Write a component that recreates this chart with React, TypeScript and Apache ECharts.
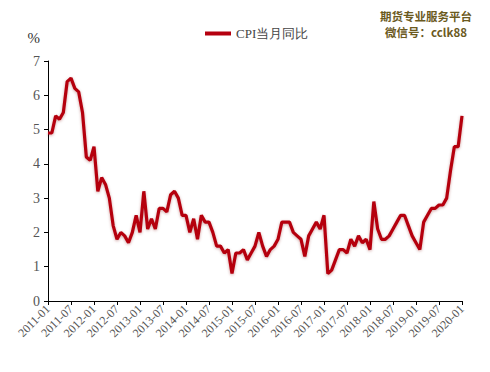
import React, { useEffect, useRef } from "react";
import * as echarts from "echarts";

const months: string[] = [];
for (let y = 2011; y <= 2020; y++) {
  for (let m = 1; m <= 12; m++) {
    if (y === 2020 && m > 1) break;
    months.push(`${y}-${m < 10 ? "0" + m : m}`);
  }
}

const cpi2011 = [4.9, 4.9, 5.4, 5.3, 5.5, 6.4, 6.5, 6.2, 6.1, 5.5, 4.2, 4.1];
const cpi2012 = [4.5, 3.2, 3.6, 3.4, 3.0, 2.2, 1.8, 2.0, 1.9, 1.7, 2.0, 2.5];
const cpi2013 = [2.0, 3.2, 2.1, 2.4, 2.1, 2.7, 2.7, 2.6, 3.1, 3.2, 3.0, 2.5];
const cpi2014 = [2.5, 2.0, 2.4, 1.8, 2.5, 2.3, 2.3, 2.0, 1.6, 1.6, 1.4, 1.5];
const cpi2015 = [0.8, 1.4, 1.4, 1.5, 1.2, 1.4, 1.6, 2.0, 1.6, 1.3, 1.5, 1.6];
const cpi2016 = [1.8, 2.3, 2.3, 2.3, 2.0, 1.9, 1.8, 1.3, 1.9, 2.1, 2.3, 2.1];
const cpi2017 = [2.5, 0.8, 0.9, 1.2, 1.5, 1.5, 1.4, 1.8, 1.6, 1.9, 1.7, 1.8];
const cpi2018 = [1.5, 2.9, 2.1, 1.8, 1.8, 1.9, 2.1, 2.3, 2.5, 2.5, 2.2, 1.9];
const cpi2019 = [1.7, 1.5, 2.3, 2.5, 2.7, 2.7, 2.8, 2.8, 3.0, 3.8, 4.5, 4.5];
const cpi2020 = [5.4];

const cpiValues = [
  ...cpi2011, ...cpi2012, ...cpi2013, ...cpi2014, ...cpi2015,
  ...cpi2016, ...cpi2017, ...cpi2018, ...cpi2019, ...cpi2020,
];

const seriesName = "CPI当月同比";
const watermark1 = "期货专业服务平台";
const watermark2 = "微信号：cclk88";

export default function App() {
  const ref = useRef<HTMLDivElement>(null);
  useEffect(() => {
    if (!ref.current) return;
    const chart = echarts.init(ref.current, null, { renderer: "svg" });
    const serif = "'Liberation Serif', 'Times New Roman', serif";
    chart.setOption({
      animation: false,
      backgroundColor: "#ffffff",
      grid: { left: 40, right: 28, top: 53, bottom: 71, containLabel: false },
      legend: {
        data: [{ name: seriesName, icon: "rect" }],
        left: 192,
        top: 14,
        itemWidth: 26,
        itemHeight: 4,
        itemGap: 4,
        textStyle: { fontFamily: serif, fontSize: 13, color: "#444" },
      },
      xAxis: {
        type: "category",
        data: months,
        boundaryGap: false,
        axisLine: { lineStyle: { color: "#000", width: 1 } },
        axisTick: {
          show: true,
          interval: (i: number) => i % 6 === 0,
          length: 4,
          inside: false,
          lineStyle: { color: "#000" },
        },
        axisLabel: {
          interval: (i: number) => i % 6 === 0,
          rotate: 45,
          fontFamily: serif,
          fontSize: 12,
          color: "#555",
          margin: 6,
        },
        splitLine: { show: false },
      },
      yAxis: {
        type: "value",
        min: 0,
        max: 7,
        interval: 1,
        name: "%",
        nameLocation: "end",
        nameGap: 16,
        nameTextStyle: { fontFamily: serif, fontSize: 15, color: "#333", align: "right", padding: [0, 8, 0, 0] },
        axisLine: { show: true, lineStyle: { color: "#000", width: 1 } },
        axisTick: { show: true, length: 4, lineStyle: { color: "#000" } },
        axisLabel: { fontFamily: serif, fontSize: 14, color: "#555", margin: 8 },
        splitLine: { show: false },
      },
      series: [
        {
          name: seriesName,
          type: "line",
          data: cpiValues,
          showSymbol: false,
          symbol: "none",
          lineStyle: {
            color: "#B5000F",
            width: 3.2,
            shadowColor: "rgba(120,0,0,0.35)",
            shadowBlur: 3,
            shadowOffsetY: 1,
          },
          itemStyle: { color: "#B5000F" },
        },
      ],
      graphic: [
        {
          type: "text",
          x: 418,
          y: 0,
          style: {
            text: watermark1 + "\n" + watermark2,
            font: "bold 11.5px 'Noto Sans CJK SC', sans-serif",
            lineHeight: 16,
            align: "center",
            verticalAlign: "top",
            fill: "#6B5A1E",
          },
        },
      ],
    });
    return () => chart.dispose();
  }, []);
  return <div ref={ref} style={{ width: 482, height: 364 }} />;
}
